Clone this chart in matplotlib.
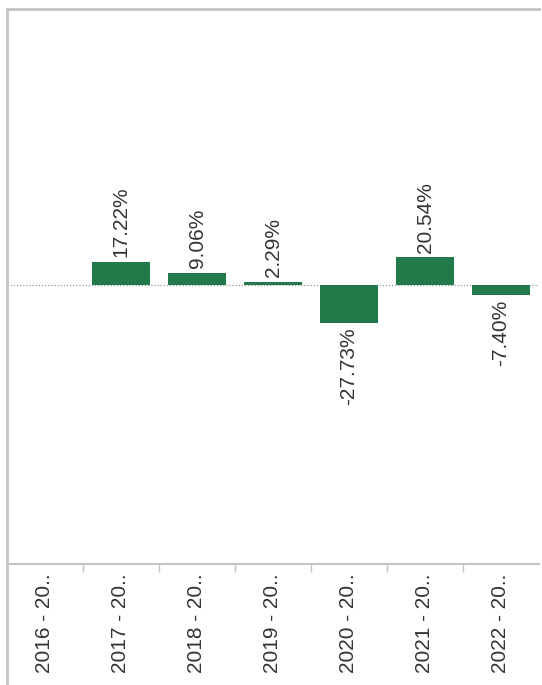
import numpy as np
import matplotlib
matplotlib.use("Agg")
import matplotlib.pyplot as plt
from matplotlib.lines import Line2D

periods = ["2016 - 20..", "2017 - 20..", "2018 - 20..", "2019 - 20..",
           "2020 - 20..", "2021 - 20..", "2022 - 20.."]
# year-over-year change in percent; the first period has no value
change = [np.nan, 17.22, 9.06, 2.29, -27.73, 20.54, -7.40]

bar_color = "#22794a"
frame_color = "#c4c4c4"
text_color = "#333333"

plt.rcParams["font.family"] = ["Liberation Sans", "DejaVu Sans"]

W, H = 542, 685
fig = plt.figure(figsize=(W / 100, H / 100), dpi=100)
left, right, top, bottom = 7, 539, 8.5, 563.5
ax = fig.add_axes([left / W, 1 - bottom / H, (right - left) / W, (bottom - top) / H])

x = np.arange(len(periods))
vals = np.array(change, dtype=float)
has = ~np.isnan(vals)
ax.bar(x[has], vals[has], width=0.76, color=bar_color, zorder=2)

# dotted zero line
ax.axhline(0, color="#999999", linestyle=(0, (1, 1.5)), linewidth=0.9, zorder=1)

# value labels, rotated, above positive bars and below negative ones
for xi, v in zip(x[has], vals[has]):
    if v >= 0:
        ax.text(xi, v + 3.5, f"{v:.2f}%", rotation=90, ha="center", va="bottom",
                fontsize=15, color=text_color)
    else:
        ax.text(xi, v - 3.5, f"{v:.2f}%", rotation=90, ha="center", va="top",
                fontsize=15, color=text_color)

ax.set_xlim(-0.5, len(periods) - 0.5)
ax.set_ylim(-205, 204)

ax.set_yticks([])
ax.set_xticks(x)
ax.set_xticklabels(periods, rotation=90, fontsize=15, color=text_color)
ax.tick_params(axis="x", which="major", length=0, pad=7)
ax.set_xticks(x[:-1] + 0.5, minor=True)
ax.tick_params(axis="x", which="minor", length=6, width=1, color=frame_color)

ax.spines["right"].set_visible(False)
for side in ["left", "top", "bottom"]:
    ax.spines[side].set_color(frame_color)
ax.spines["left"].set_linewidth(2)
ax.spines["top"].set_linewidth(2)
ax.spines["bottom"].set_linewidth(1.5)

# left border continues down past the category labels
fig.add_artist(Line2D([left / W, left / W], [0, 1 - bottom / H],
                      color=frame_color, linewidth=2, transform=fig.transFigure))

fig.savefig("out.png", dpi=100)
